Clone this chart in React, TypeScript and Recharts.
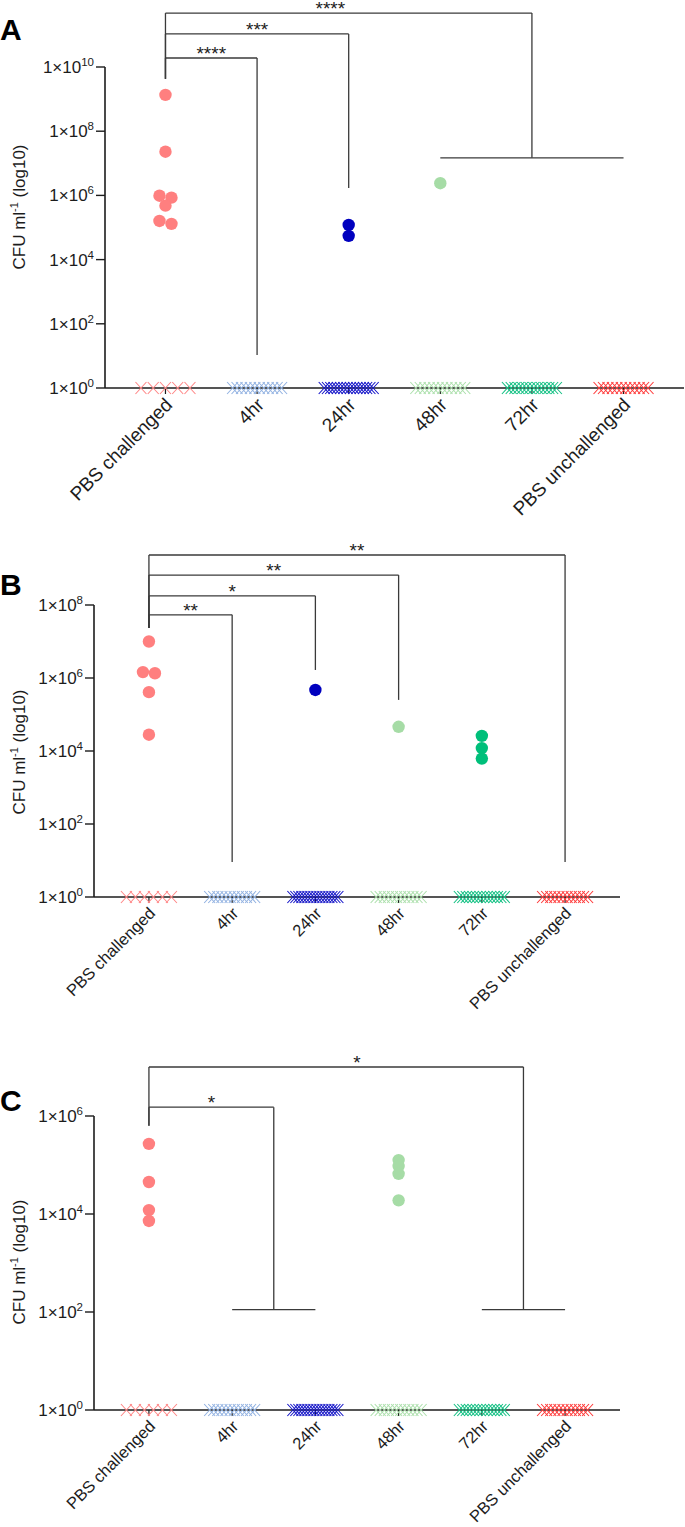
import React from "react";
import { ScatterChart, Scatter, XAxis, YAxis, ReferenceLine, ReferenceDot } from "recharts";

const groups = ["PBS challenged", "4hr", "24hr", "48hr", "72hr", "PBS unchallenged"];
const dotColors = ["#ff7f7f", "#8fb0e0", "#0000bf", "#a6dca6", "#00bf7a", "#ff3333"];
const crossColors = ["#ff8787", "#93b3e2", "#1414c8", "#ade0ad", "#14c184", "#ff3a3a"];

// CFU ml-1 per animal (detected)
const aCounts = [
  [1.35e9, 2.3e7, 9.8e5, 8.5e5, 4.8e5, 1.6e5, 1.3e5],
  [],
  [1.2e5, 5.5e4],
  [2.4e6],
  [],
  [],
];
// animals with nothing recovered, plotted at 1x10^0
const aUndetected = [5, 12, 16, 12, 14, 12];
const aTicks = [1, 1e2, 1e4, 1e6, 1e8, 1e10];

const bCounts = [
  [1.0e7, 1.45e6, 1.35e6, 4.1e5, 2.8e4],
  [],
  [4.7e5],
  [4.6e4],
  [2.6e4, 1.2e4, 6.2e3],
  [],
];
const bUndetected = [6, 12, 16, 12, 14, 12];
const bTicks = [1, 1e2, 1e4, 1e6, 1e8];

const cCounts = [
  [2.7e5, 4.5e4, 1.2e4, 7.2e3],
  [],
  [],
  [1.26e5, 9.5e4, 6.6e4, 1.9e4],
  [],
  [],
];
const cUndetected = [6, 12, 16, 12, 14, 12];
const cTicks = [1, 1e2, 1e4, 1e6];

// significance brackets: levels are log10 CFU
type Bracket = { from: number; to: number; top: number; drop: number; stars: string; starAt?: number; span?: [number, number] };

const aBrackets: Bracket[] = [
  { from: 0, to: 1, top: 10.28, drop: 1.03, stars: "****" },
  { from: 0, to: 2, top: 11.03, drop: 6.23, stars: "***" },
  { from: 0, to: 4, top: 11.68, drop: 7.17, stars: "****", starAt: 1.8, span: [3, 5] },
];
const bBrackets: Bracket[] = [
  { from: 0, to: 1, top: 7.73, drop: 0.96, stars: "**" },
  { from: 0, to: 2, top: 8.25, drop: 6.22, stars: "*" },
  { from: 0, to: 3, top: 8.82, drop: 5.4, stars: "**" },
  { from: 0, to: 5, top: 9.37, drop: 0.96, stars: "**" },
];
const cBrackets: Bracket[] = [
  { from: 0, to: 1.5, top: 6.18, drop: 2.05, stars: "*", span: [1, 2] },
  { from: 0, to: 4.5, top: 7.0, drop: 2.05, stars: "*", starAt: 2.5, span: [4, 5] },
];

const FONT = '"Liberation Sans", Arial, Helvetica, sans-serif';
const INK = "#1c1c1c";
const LINE = "#3a3a3a";
const X_DOMAIN: [number, number] = [-0.66, 5.66];
const PAGE_W = 685;

const panels = [
  { letter: "A", top: 0, height: 528, axisY: 388, perDecade: 32.1, maxExp: 12, plotLeft: 105, plotRight: 684, band: 60, labelSize: 19,
    counts: aCounts, undetected: aUndetected, ticks: aTicks, brackets: aBrackets, leftLegEnd: 9.63, letterY: 40, titleY: 207 },
  { letter: "B", top: 530, height: 498, axisY: 897, perDecade: 36.5, maxExp: 9.8, plotLeft: 94, plotRight: 620, band: 56, labelSize: 16.5,
    counts: bCounts, undetected: bUndetected, ticks: bTicks, brackets: bBrackets, leftLegEnd: 7.37, letterY: 595, titleY: 752 },
  { letter: "C", top: 1030, height: 497, axisY: 1410, perDecade: 49, maxExp: 7.4, plotLeft: 94, plotRight: 620, band: 56, labelSize: 16.5,
    counts: cCounts, undetected: cUndetected, ticks: cTicks, brackets: cBrackets, leftLegEnd: 5.8, letterY: 1111, titleY: 1262 },
];

// nudge points that sit on top of each other sideways, like a column scatter
function layoutDots(vals: number[], g: number, perDecade: number, catPx: number) {
  const sorted = [...vals].sort((a, b) => b - a);
  const out: { x: number; y: number }[] = [];
  let i = 0;
  while (i < sorted.length) {
    let j = i + 1;
    while (j < sorted.length && (Math.log10(sorted[j - 1]) - Math.log10(sorted[j])) * perDecade < 4) j++;
    const k = j - i;
    for (let m = 0; m < k; m++) out.push({ x: g + ((m - (k - 1) / 2) * 12) / catPx, y: sorted[i + m] });
    i = j;
  }
  return out;
}

function spreadCrosses(n: number, g: number, band: number, catPx: number) {
  const step = n > 1 ? (band - 11) / (n - 1) : 0;
  return Array.from({ length: n }, (_, k) => ({ x: g + ((k - (n - 1) / 2) * step) / catPx, y: 1 }));
}

const PowerTick = (props: any) => {
  const { x, y, payload } = props;
  const e = Math.round(Math.log10(payload.value));
  return (
    <text x={x} y={y} dy={6} textAnchor="end" fontSize={17} fill={INK} fontFamily={FONT}>
      1×10<tspan fontSize={11.5} dy={-7}>{e}</tspan>
    </text>
  );
};

const CategoryTick = (props: any) => {
  const { x, y, payload, size } = props;
  return (
    <text x={x + 2} y={y + 2} dy="0.45em" transform={`rotate(-45 ${x + 2} ${y + 2})`} textAnchor="end"
      fontSize={size} fill={INK} fontFamily={FONT}>
      {groups[payload.value]}
    </text>
  );
};

const dotShape = (color: string) => (props: any) => <circle cx={props.cx} cy={props.cy} r={6.2} fill={color} />;

const crossShape = (color: string) => (props: any) => {
  const { cx, cy } = props;
  return (
    <path d={`M${cx - 5.5},${cy - 6}L${cx + 5.5},${cy + 6}M${cx - 5.5},${cy + 6}L${cx + 5.5},${cy - 6}`}
      stroke={color} strokeWidth={1.1} fill="none" />
  );
};

const seg = (x1: number, e1: number, x2: number, e2: number, key: string, w = 1.3, color = LINE) => (
  <ReferenceLine key={key} segment={[{ x: x1, y: 10 ** e1 }, { x: x2, y: 10 ** e2 }]}
    stroke={color} strokeWidth={w} ifOverflow="visible" />
);

function Panel({ p }: { p: (typeof panels)[number] }) {
  const plotH = p.maxExp * p.perDecade;
  const marginTop = p.axisY - p.top - plotH;
  const xAxisH = p.height - (p.axisY - p.top);
  const catPx = (p.plotRight - p.plotLeft) / (X_DOMAIN[1] - X_DOMAIN[0]);
  const dots = p.counts.map((vals, g) => layoutDots(vals, g, p.perDecade, catPx));
  const crosses = p.undetected.map((n, g) => spreadCrosses(n, g, p.band, catPx));
  const topTickExp = Math.log10(p.ticks[p.ticks.length - 1]);

  return (
    <div style={{ position: "absolute", left: 0, top: p.top }}>
      <ScatterChart width={PAGE_W} height={p.height}
        margin={{ top: marginTop, right: PAGE_W - p.plotRight, bottom: 0, left: 0 }}>
        <XAxis type="number" dataKey="x" domain={X_DOMAIN} ticks={[0, 1, 2, 3, 4, 5]} interval={0}
          height={xAxisH} tickSize={6} tickMargin={4}
          axisLine={{ stroke: INK, strokeWidth: 1.6 }} tickLine={{ stroke: INK, strokeWidth: 1.2 }}
          tick={(t: any) => <CategoryTick {...t} size={p.labelSize} />} />
        <YAxis type="number" dataKey="y" scale="log" domain={[1, 10 ** p.maxExp]} ticks={p.ticks} interval={0}
          width={p.plotLeft} tickSize={9} tickMargin={2} axisLine={false}
          tickLine={{ stroke: INK, strokeWidth: 1.4 }} tick={(t: any) => <PowerTick {...t} />} />
        {seg(X_DOMAIN[0], 0, X_DOMAIN[0], topTickExp, "yaxis", 1.6, INK)}
        {p.brackets.map((b, i) => [
          seg(b.from, b.top, b.to, b.top, `h${i}`),
          seg(b.from, b.top, b.from, p.leftLegEnd, `l${i}`),
          seg(b.to, b.top, b.to, b.drop, `r${i}`),
          b.span ? seg(b.span[0], b.drop, b.span[1], b.drop, `s${i}`) : null,
          <ReferenceDot key={`t${i}`} x={b.starAt ?? (b.from + b.to) / 2} y={10 ** b.top} r={1} ifOverflow="visible"
            shape={(d: any) => (
              <text x={d.cx} y={d.cy + 2} textAnchor="middle" fontSize={19} fill={INK} fontFamily={FONT}>
                {b.stars}
              </text>
            )} />,
        ])}
        {crosses.map((d, g) => (
          <Scatter key={`x${g}`} data={d} shape={crossShape(crossColors[g])} isAnimationActive={false} />
        ))}
        {dots.map((d, g) =>
          d.length ? <Scatter key={`d${g}`} data={d} shape={dotShape(dotColors[g])} isAnimationActive={false} /> : null
        )}
      </ScatterChart>
    </div>
  );
}

export default function App() {
  return (
    <div style={{ position: "absolute", left: 0, top: 0, width: PAGE_W, height: 1527, background: "#fff", fontFamily: FONT }}>
      {panels.map((p) => (
        <Panel key={p.letter} p={p} />
      ))}
      <svg width={PAGE_W} height={1527} style={{ position: "absolute", left: 0, top: 0, pointerEvents: "none" }}>
        {panels.map((p) => (
          <g key={p.letter}>
            <text x={0} y={p.letterY} fontSize={30} fontWeight="bold" fill="#000" fontFamily={FONT}>
              {p.letter}
            </text>
            <text x={25} y={p.titleY} transform={`rotate(-90 25 ${p.titleY})`} textAnchor="middle" fontSize={17}
              fill={INK} fontFamily={FONT}>
              CFU ml<tspan fontSize={11} dy={-7}>-1</tspan>
              <tspan dy={7}>{"  (log10)"}</tspan>
            </text>
          </g>
        ))}
      </svg>
    </div>
  );
}
